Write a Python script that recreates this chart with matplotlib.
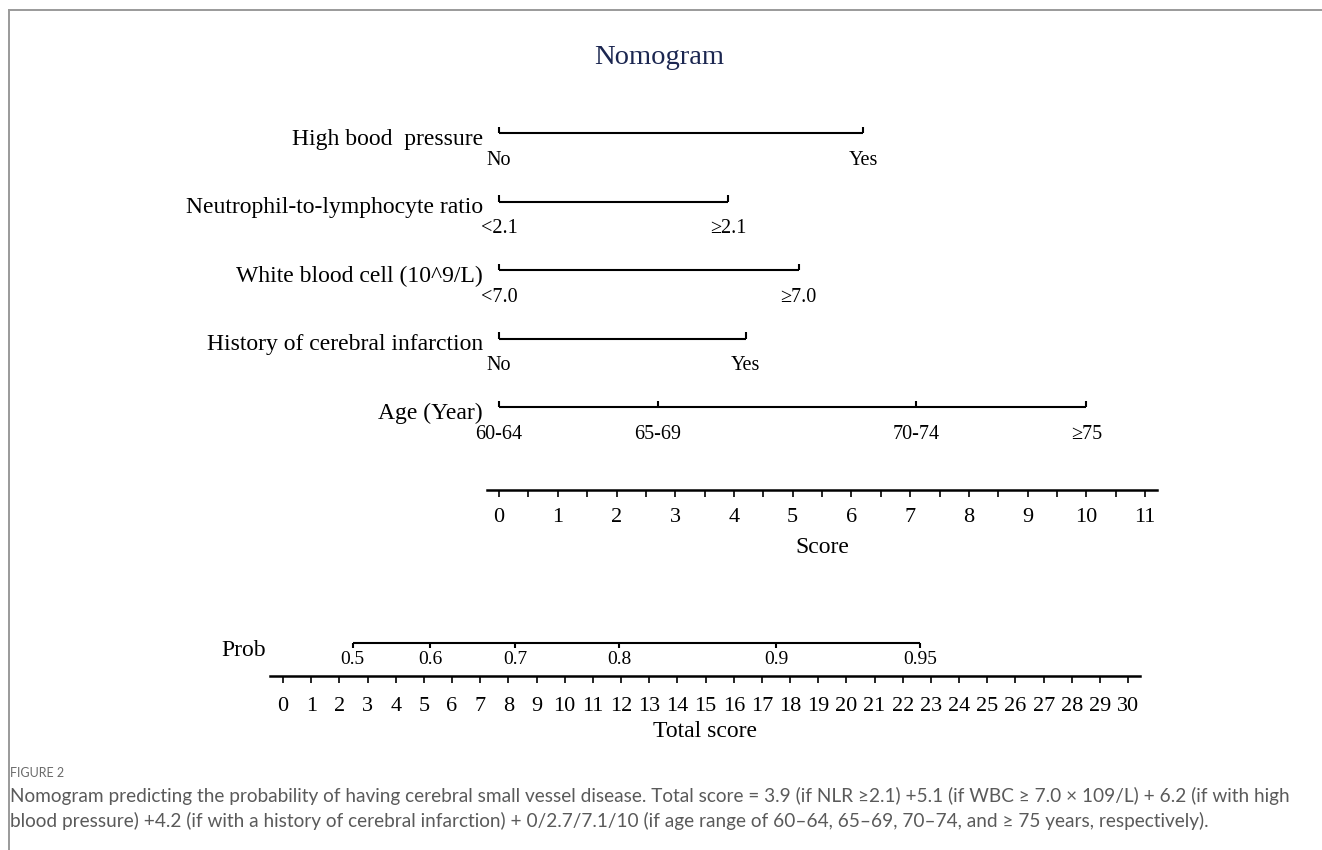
import numpy as np
import matplotlib
matplotlib.use("Agg")
import matplotlib.pyplot as plt
from matplotlib.lines import Line2D

plt.rcParams['font.family'] = ['Liberation Serif', 'DejaVu Serif']

# nomogram rows (points on the 0-11 Score scale)
row_names = ["High bood  pressure", "Neutrophil-to-lymphocyte ratio",
             "White blood cell (10^9/L)", "History of cerebral infarction", "Age (Year)"]
row_points = [[0, 6.2], [0, 3.9], [0, 5.1], [0, 4.2], [0, 2.7, 7.1, 10]]
row_levels = [["No", "Yes"], ["<2.1", "≥2.1"], ["<7.0", "≥7.0"], ["No", "Yes"],
              ["60-64", "65-69", "70-74", "≥75"]]

score_ticks = np.arange(0, 12)
total_ticks = np.arange(0, 31)

# probability scale placed on the total score axis
prob_labels = ["0.5", "0.6", "0.7", "0.8", "0.9", "0.95"]
prob_points = [2.47, 5.22, 8.24, 11.93, 17.5, 22.6]

caption_1 = ("Nomogram predicting the probability of having cerebral small vessel disease. "
             "Total score = 3.9 (if NLR \u22652.1) +5.1 (if WBC \u2265 7.0 \u00d7 109/L) + 6.2 (if with high")
caption_2 = ("blood pressure) +4.2 (if with a history of cerebral infarction) + 0/2.7/7.1/10 "
             "(if age range of 60\u201364, 65\u201369, 70\u201374, and \u2265 75 years, respectively).")

W, H = 1322, 850


def px_rect(x0, y0, x1, y1):
    return [x0 / W, 1 - y1 / H, (x1 - x0) / W, (y1 - y0) / H]


fig = plt.figure(figsize=(W / 100, H / 100), dpi=100)

# frame lines of the figure panel
fig.add_artist(Line2D([9 / W, 9 / W], [0, 1 - 10 / H], color='#9a9a9a', lw=1.4))
fig.add_artist(Line2D([9 / W, 1], [1 - 10 / H, 1 - 10 / H], color='#9a9a9a', lw=1.4))

fig.text(659 / W, 1 - 58 / H, "Nomogram", ha='center', va='center', fontsize=20.5, color='#1b2650')

# upper block: predictors + Score axis
ax1 = fig.add_axes(px_rect(487.3, 110, 1156.8, 490))
ax1.set_xlim(-0.2, 11.2)
ax1.set_ylim(5.21, -0.336)
for s in ['top', 'left', 'right']:
    ax1.spines[s].set_visible(False)
ax1.spines['bottom'].set_linewidth(1.8)
ax1.set_yticks([])
ax1.set_xticks(score_ticks)
ax1.set_xticks(score_ticks[:-1] + 0.5, minor=True)
ax1.tick_params(axis='x', which='both', direction='out', length=5, width=1.2, labelsize=16, pad=8)
ax1.set_xlabel("Score", fontsize=17, labelpad=7)

for i, (name, pts, lvls) in enumerate(zip(row_names, row_points, row_levels)):
    ax1.plot([pts[0], pts[-1]], [i, i], color='k', lw=1.5, solid_capstyle='butt')
    ax1.vlines(pts, i - 0.09, i, color='k', lw=1.5)
    for p, lv in zip(pts, lvls):
        ax1.annotate(lv, (p, i), xytext=(0, -27), textcoords='offset pixels',
                     ha='center', va='center', fontsize=14.5)
    ax1.annotate(name, (0, i), xytext=(-16, -6), textcoords='offset pixels',
                 ha='right', va='center', fontsize=17)

# lower block: Prob + Total score axis
ax2 = fig.add_axes(px_rect(270, 620, 1140, 676))
ax2.set_xlim(-0.4615, 30.42)
ax2.set_ylim(0, 1)
for s in ['top', 'left', 'right']:
    ax2.spines[s].set_visible(False)
ax2.spines['bottom'].set_linewidth(1.8)
ax2.set_yticks([])
ax2.set_xticks(total_ticks)
ax2.tick_params(axis='x', direction='out', length=5, width=1.2, labelsize=16, pad=10)
ax2.set_xlabel("Total score", fontsize=17, labelpad=4)

py = 0.589
ax2.plot([prob_points[0], prob_points[-1]], [py, py], color='k', lw=1.5, solid_capstyle='butt')
ax2.vlines(prob_points, py - 0.09, py, color='k', lw=1.5)
for p, lb in zip(prob_points, prob_labels):
    ax2.annotate(lb, (p, py), xytext=(0, -16), textcoords='offset pixels',
                 ha='center', va='center', fontsize=14)
ax2.annotate("Prob", (0, py), xytext=(-17, -7), textcoords='offset pixels',
             ha='right', va='center', fontsize=17)

# caption
cap_font = ['Lato', 'DejaVu Sans']
fig.text(10 / W, 1 - 773 / H, "FIGURE 2", family=cap_font, fontsize=9, color='#6a6a6a', va='center')
fig.text(10 / W, 1 - 796 / H, caption_1, family=cap_font, fontsize=13.7, color='#5a5a5a', va='center')
fig.text(10 / W, 1 - 821 / H, caption_2, family=cap_font, fontsize=13.7, color='#5a5a5a', va='center')

fig.savefig("out.png", dpi=100)
